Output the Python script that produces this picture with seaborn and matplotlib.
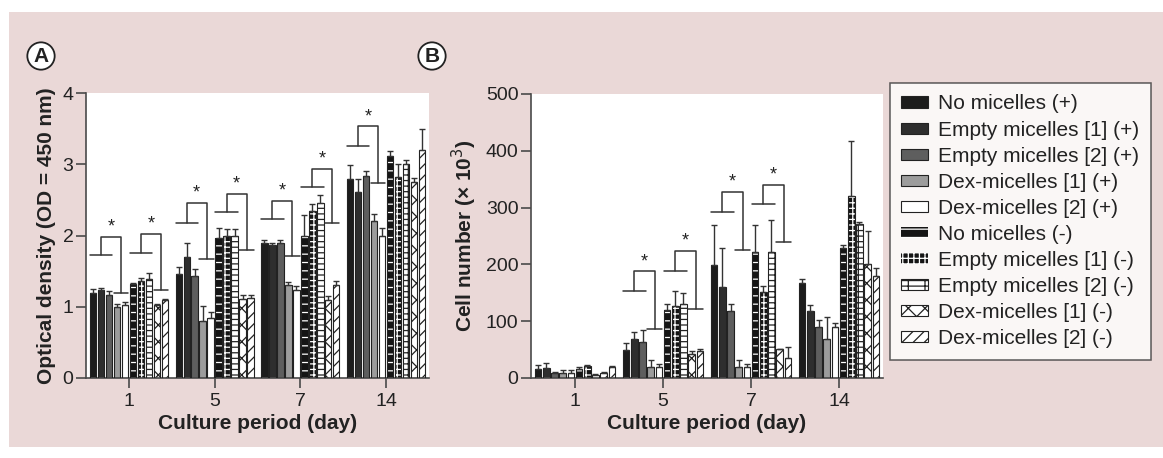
import numpy as np
import pandas as pd
import matplotlib
matplotlib.use('Agg')
import matplotlib.pyplot as plt
import seaborn as sns
from matplotlib.patches import Rectangle, Patch

# --- data ---
days = ['1', '5', '7', '14']
groups = ['No micelles (+)', 'Empty micelles [1] (+)', 'Empty micelles [2] (+)',
          'Dex-micelles [1] (+)', 'Dex-micelles [2] (+)',
          'No micelles (-)', 'Empty micelles [1] (-)', 'Empty micelles [2] (-)',
          'Dex-micelles [1] (-)', 'Dex-micelles [2] (-)']

# panel A: optical density
od_day1 = [1.20, 1.23, 1.17, 1.00, 1.02, 1.32, 1.36, 1.39, 1.02, 1.09]
od_day5 = [1.46, 1.70, 1.43, 0.80, 0.84, 1.96, 1.99, 1.99, 1.11, 1.12]
od_day7 = [1.90, 1.87, 1.90, 1.31, 1.24, 2.00, 2.35, 2.45, 1.10, 1.31]
od_day14 = [2.80, 2.61, 2.84, 2.21, 1.99, 3.12, 2.82, 3.01, 2.75, 3.20]
od_err_day1 = [0.05, 0.04, 0.05, 0.04, 0.05, 0.01, 0.05, 0.08, 0.02, 0.02]
od_err_day5 = [0.10, 0.20, 0.10, 0.21, 0.08, 0.14, 0.10, 0.10, 0.05, 0.05]
od_err_day7 = [0.04, 0.03, 0.04, 0.04, 0.05, 0.29, 0.09, 0.12, 0.05, 0.05]
od_err_day14 = [0.19, 0.18, 0.06, 0.09, 0.11, 0.07, 0.19, 0.05, 0.06, 0.30]

# panel B: cell number (x 10^3)
cell_day1 = [15, 17, 8, 8, 8, 16, 21, 6, 9, 20]
cell_day5 = [49, 68, 64, 19, 19, 119, 126, 131, 43, 48]
cell_day7 = [199, 161, 118, 19, 19, 222, 151, 221, 51, 35]
cell_day14 = [168, 118, 89, 68, 89, 229, 321, 271, 200, 179]
cell_err_day1 = [8, 10, 2, 6, 6, 3, 2, 1, 2, 2]
cell_err_day5 = [12, 13, 20, 12, 6, 12, 28, 19, 4, 3]
cell_err_day7 = [70, 68, 12, 12, 6, 48, 11, 58, 0, 20]
cell_err_day14 = [7, 11, 13, 40, 7, 6, 97, 4, 58, 15]

# significance brackets: day index, first bar of the set, left/top/right heights
od_brk_day = [0, 0, 1, 1, 2, 2, 3]
od_brk_start = [0, 5, 0, 5, 0, 5, 0]
od_brk_left = [1.73, 1.76, 2.18, 2.33, 2.23, 2.68, 3.26]
od_brk_top = [1.98, 2.02, 2.46, 2.58, 2.49, 2.94, 3.53]
od_brk_right = [1.20, 1.23, 1.67, 1.80, 1.71, 2.17, 2.74]

cell_brk_day = [1, 1, 2, 2]
cell_brk_start = [0, 5, 0, 5]
cell_brk_left = [153, 188, 292, 306]
cell_brk_top = [188, 224, 328, 340]
cell_brk_right = [86, 121, 225, 239]

# bar styles: face colour, hatch, hatch colour
faces = ['#1c1c1c', '#2e2e2e', '#5e5e5e', '#9c9c9c', 'white',
         '#151515', '#151515', 'white', 'white', 'white']
hatches = [None, None, None, None, None, '--', '+++', '---|', 'xx', '///']
hatch_cols = ['#222'] * 5 + ['white', 'white', '#222', '#222', '#222']

PINK = '#ead8d7'
INK = '#222222'
SPINE = '#4a4a4a'

sns.set_theme(style='ticks')
plt.rcParams['font.family'] = ['Liberation Sans', 'DejaVu Sans']
plt.rcParams['hatch.linewidth'] = 0.9


def long_table(means, errs):
    rows = []
    for d, vals, ers in zip(days, means, errs):
        for g, v, e in zip(groups, vals, ers):
            rows.append({'day': d, 'group': g, 'value': v, 'err': e})
    return pd.DataFrame(rows)


def draw_panel(ax, df, ymax, step, ylabel, brk):
    sns.barplot(data=df, x='day', y='value', hue='group', order=days,
                hue_order=groups, width=0.93, gap=0.2, errorbar=None,
                legend=False, ax=ax, palette=['white'] * 10, saturation=1)
    bars = {}
    for i, cont in enumerate(ax.containers):
        for j, bar in enumerate(cont.patches):
            bars[(j, i)] = bar
            bar.set_facecolor(faces[i])
            bar.set_linewidth(0)
            if hatches[i]:
                bar.set_edgecolor(hatch_cols[i])
                bar.set_hatch(hatches[i])
            else:
                bar.set_edgecolor(faces[i])
            ax.add_patch(Rectangle(bar.get_xy(), bar.get_width(), bar.get_height(),
                                   fill=False, ec=INK, lw=0.8, zorder=3))
    # one-sided error bars
    xs, ys, es = [], [], []
    for (j, i), bar in bars.items():
        xs.append(bar.get_x() + bar.get_width() / 2)
        ys.append(bar.get_height())
        es.append(df.loc[(df.day == days[j]) & (df.group == groups[i]), 'err'].iloc[0])
    ax.errorbar(xs, ys, yerr=[np.zeros(len(es)), es], fmt='none', ecolor='#333',
                elinewidth=1, capsize=2, capthick=1, zorder=4)

    # brackets with stars
    bday, bstart, bleft, btop, bright = brk
    for d, s, hl, ht, hr in zip(bday, bstart, bleft, btop, bright):
        b0, b1, b2, b3, b4 = [bars[(d, s + k)] for k in range(5)]
        lx0, lx1 = b0.get_x(), b2.get_x() + b2.get_width()
        rx0, rx1 = b3.get_x(), b4.get_x() + b4.get_width()
        xl = b1.get_x() + b1.get_width() / 2
        xr = (rx0 + rx1) / 2
        kw = dict(color='#333', lw=1.1, zorder=5)
        ax.plot([lx0, lx1], [hl, hl], **kw)
        ax.plot([rx0, rx1], [hr, hr], **kw)
        ax.plot([xl, xl, xr, xr], [hl, ht, ht, hr], **kw)
        ax.annotate('*', ((xl + xr) / 2, ht), xytext=(0, 7), textcoords='offset points',
                    ha='center', va='center', fontsize=13, color=INK)

    ax.set_facecolor('white')
    ax.set_xlim(-0.5, 3.5)
    ax.set_ylim(0, ymax)
    ax.set_yticks(np.arange(0, ymax + step / 2, step))
    ax.set_xlabel('Culture period (day)', fontsize=15, fontweight='bold',
                  color=INK, labelpad=3)
    ax.set_ylabel(ylabel, fontsize=15, fontweight='bold', color=INK, labelpad=5)
    sns.despine(ax=ax)
    for sp in ['left', 'bottom']:
        ax.spines[sp].set_color(SPINE)
        ax.spines[sp].set_linewidth(1.2)
    ax.tick_params(direction='out', length=7, width=1.2, color=SPINE,
                   labelsize=14, labelcolor=INK, pad=2)
    ax.tick_params(axis='x', pad=4)


fig = plt.figure(figsize=(11.63, 4.58), dpi=100, facecolor='white')
fig.add_artist(Rectangle((9 / 1163, 1 - 447 / 458), 1154 / 1163, 435 / 458,
                         transform=fig.transFigure, fc=PINK, ec='none', zorder=-10))

ax_a = fig.add_axes([86 / 1163, 1 - 378 / 458, 343 / 1163, 285 / 458])
ax_b = fig.add_axes([531 / 1163, 1 - 378 / 458, 352 / 1163, 284 / 458])

df_od = long_table([od_day1, od_day5, od_day7, od_day14],
                   [od_err_day1, od_err_day5, od_err_day7, od_err_day14])
df_cell = long_table([cell_day1, cell_day5, cell_day7, cell_day14],
                     [cell_err_day1, cell_err_day5, cell_err_day7, cell_err_day14])

draw_panel(ax_a, df_od, 4, 1, 'Optical density (OD = 450 nm)',
           (od_brk_day, od_brk_start, od_brk_left, od_brk_top, od_brk_right))
draw_panel(ax_b, df_cell, 500, 100, 'Cell number (× 10$^{3}$)',
           (cell_brk_day, cell_brk_start, cell_brk_left, cell_brk_top, cell_brk_right))

# panel letters
for letter, px in [('A', 41), ('B', 432)]:
    fig.text(px / 1163, 1 - 56 / 458, letter, ha='center', va='center', fontsize=15,
             fontweight='bold', color=INK,
             bbox=dict(boxstyle='circle,pad=0.2', fc='white', ec=INK, lw=1.3))

# legend
handles = []
for i, g in enumerate(groups):
    if hatches[i] and hatch_cols[i] == 'white':
        handles.append(Patch(facecolor=faces[i], edgecolor='white', hatch=hatches[i],
                             lw=0, label=g))
    else:
        handles.append(Patch(facecolor=faces[i], edgecolor=INK, hatch=hatches[i],
                             lw=0.8, label=g))
leg = fig.legend(handles=handles, loc='upper left', bbox_to_anchor=(890 / 1163, 1 - 83 / 458),
                 borderaxespad=0, frameon=True, fancybox=False, fontsize=15,
                 handlelength=1.25, handleheight=0.45, labelspacing=0.34,
                 handletextpad=0.5, borderpad=0.55)
leg.get_frame().set_edgecolor('#333')
leg.get_frame().set_linewidth(1.1)
for t in leg.get_texts():
    t.set_color(INK)

fig.savefig('out.png', dpi=100, facecolor='white')
